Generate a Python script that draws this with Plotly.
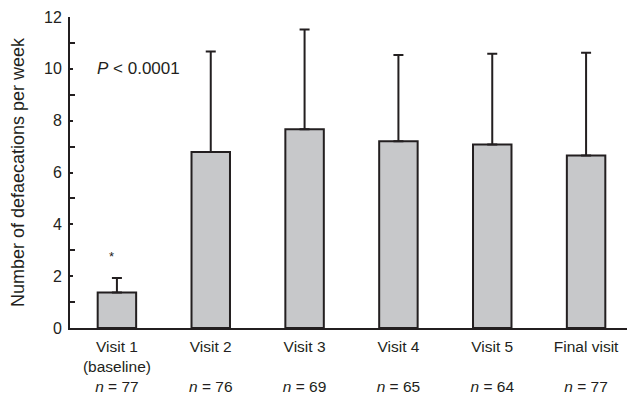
import plotly.graph_objects as go

categories = ["Visit 1", "Visit 2", "Visit 3", "Visit 4", "Visit 5", "Final visit"]
subtitles = ["(baseline)", "", "", "", "", ""]
n_counts = [77, 76, 69, 65, 64, 77]
means = [1.37, 6.79, 7.67, 7.21, 7.08, 6.66]
sd_upper = [0.56, 3.88, 3.85, 3.32, 3.50, 3.96]
y_ticks = [0, 2, 4, 6, 8, 10, 12]
p_text = "<i>P</i> < 0.0001"
star_y = 2.74

INK = "#231f20"
FONT = "Liberation Sans, Arial, sans-serif"

ticktext = []
for c, s, n in zip(categories, subtitles, n_counts):
    mid = s if s else "\u00a0"
    ticktext.append(f"{c}<br>{mid}<br><i>n</i> = {n}")

x = list(range(len(categories)))

fig = go.Figure()
fig.add_trace(go.Bar(
    x=x, y=means,
    width=0.41,
    marker=dict(color="#c7c8ca", line=dict(color=INK, width=2)),
    error_y=dict(type="data", array=sd_upper, arrayminus=[0] * len(means),
                 symmetric=False, color=INK, thickness=2, width=5),
    showlegend=False,
))

fig.add_annotation(x=0, y=star_y, text="*", showarrow=False, xshift=-5,
                   font=dict(size=13, color=INK, family=FONT))
fig.add_annotation(x=0.235, y=10.03, xref="x", yref="y", text=p_text, showarrow=False,
                   xanchor="center", yanchor="middle",
                   font=dict(size=17, color=INK, family=FONT))

# page body has an 8px default margin, so the figure is sized to fit the window
fig.update_layout(
    width=627, height=389,
    margin=dict(l=62, r=1.5, t=9, b=69),
    paper_bgcolor="white", plot_bgcolor="white",
    font=dict(family=FONT, size=16, color=INK),
    bargap=0.59,
)
fig.update_xaxes(
    range=[-0.5, 5.5], tickmode="array", tickvals=x, ticktext=ticktext,
    showline=True, linecolor=INK, linewidth=2, ticks="", showgrid=False,
    zeroline=False, tickfont=dict(size=15.5, color=INK), automargin=False,
    ticklabelstandoff=3,
)
fig.update_yaxes(
    range=[0, 12], tickmode="array", tickvals=y_ticks,
    showline=True, linecolor=INK, linewidth=2, ticks="inside", ticklen=3,
    tickwidth=1.5, tickcolor=INK, showgrid=False, zeroline=False,
    minor=dict(tickmode="linear", tick0=1, dtick=2, ticks="inside", ticklen=5,
               tickwidth=1.5, tickcolor=INK, showgrid=False),
    title=dict(text="Number of defaecations per week", font=dict(size=18, color=INK)),
    tickfont=dict(size=16, color=INK), automargin=False, ticklabelstandoff=3,
)

fig.write_html("out.html")
